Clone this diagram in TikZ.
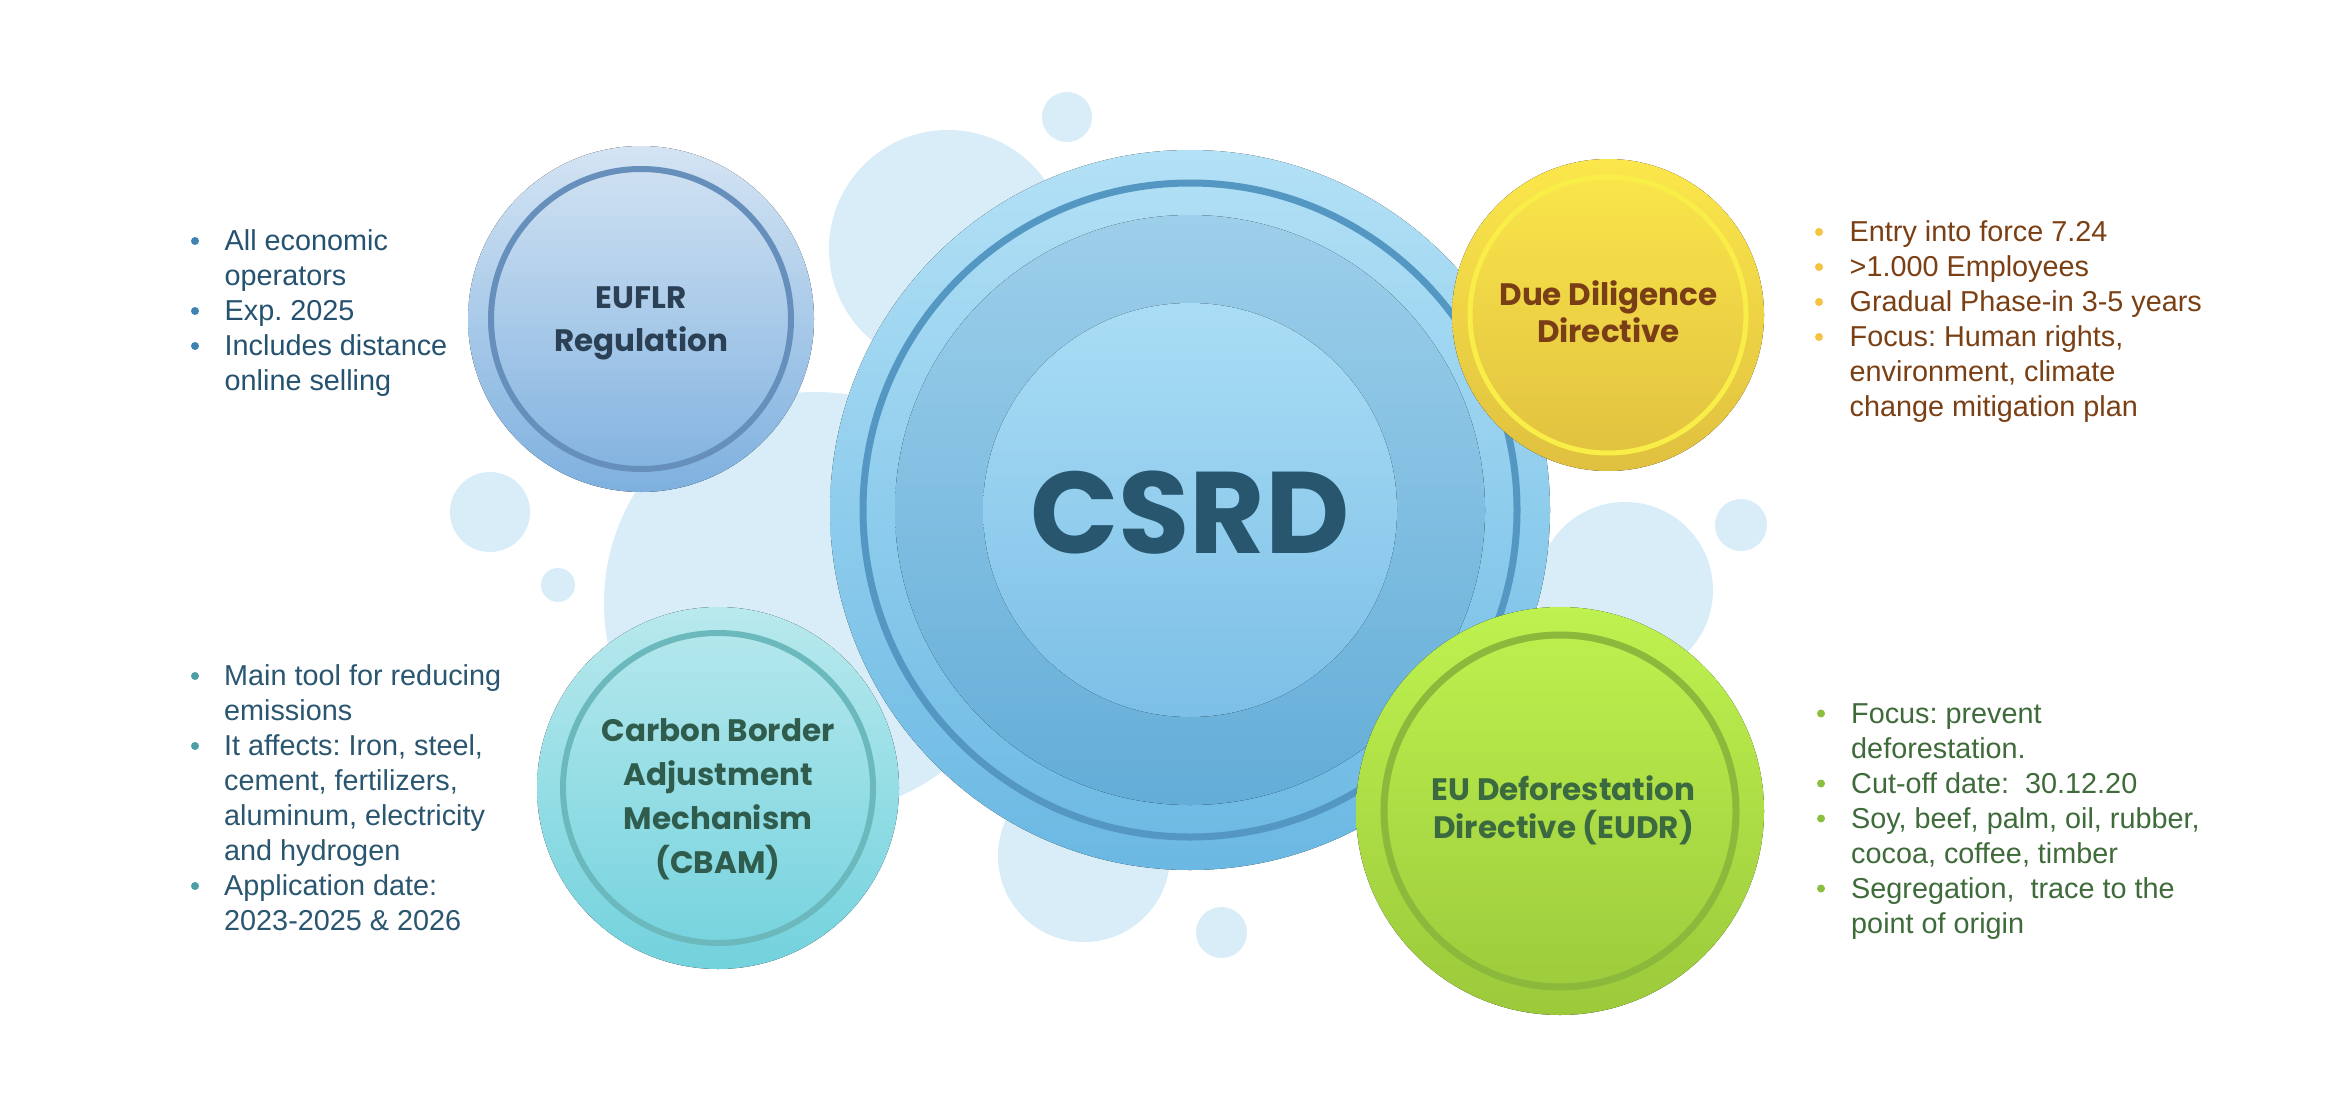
\documentclass[tikz,border=0pt]{standalone}
\usepackage{fontspec}
\setmainfont{Liberation Sans}
\newfontfamily\popfont{Poppins}
\usetikzlibrary{positioning}
\frenchspacing

\definecolor{bubblecol}{HTML}{D8EDF8}
\definecolor{csrdOutA}{HTML}{B3E1F6}
\definecolor{csrdOutB}{HTML}{6AB8E3}
\definecolor{csrdRing}{HTML}{5397C2}
\definecolor{csrdMidA}{HTML}{9DCFEA}
\definecolor{csrdMidB}{HTML}{63ADD8}
\definecolor{csrdInA}{HTML}{AADDF5}
\definecolor{csrdInB}{HTML}{7CBFE7}
\definecolor{csrdTxt}{HTML}{27566E}
\definecolor{flrA}{HTML}{D4E4F3}
\definecolor{flrB}{HTML}{7EB0DF}
\definecolor{flrRing}{HTML}{6690BB}
\definecolor{flrTxt}{HTML}{2B3F55}
\definecolor{cbamA}{HTML}{B8E9ED}
\definecolor{cbamB}{HTML}{72D2DD}
\definecolor{cbamRing}{HTML}{6BB9BD}
\definecolor{cbamTxt}{HTML}{2F5C4C}
\definecolor{dueA}{HTML}{FBE74B}
\definecolor{dueB}{HTML}{E0C03F}
\definecolor{dueRing}{HTML}{F9EE48}
\definecolor{dueTxt}{HTML}{7A3E17}
\definecolor{eudrA}{HTML}{BEF24F}
\definecolor{eudrB}{HTML}{9BC93B}
\definecolor{eudrRing}{HTML}{8AB93C}
\definecolor{eudrTxt}{HTML}{3C6A40}
\definecolor{blueTxt}{HTML}{255270}
\definecolor{blueDot}{HTML}{4183B0}
\definecolor{tealTxt}{HTML}{2A5670}
\definecolor{tealDot}{HTML}{4D9EA6}
\definecolor{brownTxt}{HTML}{7B3F14}
\definecolor{yellowDot}{HTML}{F5C342}
\definecolor{greenTxt}{HTML}{3F6B3A}
\definecolor{greenDot}{HTML}{8DBF3F}

\begin{document}
\begin{tikzpicture}[
        x=1pt, y=-1pt,
        lbl/.style={font=\popfont\bfseries\fontsize{31}{38}\selectfont, inner sep=0pt, anchor=base},
        item/.style={font=\fontsize{28.8}{35}\selectfont, inner sep=0pt, anchor=base west},
        ring/.style={line width=#1},
        ring/.default=6pt
    ]
    \fill[white] (0,0) rectangle (2350,1116);
    \useasboundingbox (0,0) rectangle (2350,1116);

    % background bubbles
    \foreach \bx/\by/\br in {948/249/119, 1067/117/25, 815/603/211, 1625/590/88,
            1084/856/86, 1221.5/932.5/25.5, 490/512/40, 558/585/17, 1741/525/26}
        \fill[bubblecol] (\bx,\by) circle (\br);

    % main circle
    \coordinate (c-main) at (1190,510);
    \fill[top color=csrdOutA, bottom color=csrdOutB] (c-main) circle (360);
    \draw[csrdRing, ring=7pt] (c-main) circle (327);
    \fill[top color=csrdMidA, bottom color=csrdMidB] (c-main) circle (295);
    \fill[top color=csrdInA, bottom color=csrdInB] (c-main) circle (207);
    \node[font=\popfont\bfseries\fontsize{116}{116}\selectfont, text=csrdTxt, inner sep=0pt, anchor=base]
        (csrd) at (1190,553) {CSRD};

    % side circles
    \coordinate (c-flr) at (641,319);
    \fill[top color=flrA, bottom color=flrB] (c-flr) circle (173);
    \draw[flrRing, ring] (c-flr) circle (150);

    \coordinate (c-cbam) at (718,788);
    \fill[top color=cbamA, bottom color=cbamB] (c-cbam) circle (181);
    \draw[cbamRing, ring] (c-cbam) circle (155);

    \coordinate (c-due) at (1608,315);
    \fill[top color=dueA, bottom color=dueB] (c-due) circle (156);
    \draw[dueRing, ring=5pt] (c-due) circle (138);

    \coordinate (c-eudr) at (1560,811);
    \fill[top color=eudrA, bottom color=eudrB] (c-eudr) circle (204);
    \draw[eudrRing, ring=7pt] (c-eudr) circle (176);

    % circle labels
    \foreach \txt [count=\i from 0] in {EUFLR, Regulation}
        \node[lbl, text=flrTxt] (flr-\i) at (641, 308.3+43.4*\i) {\txt};
    \foreach \txt [count=\i from 0] in {Carbon Border, Adjustment, Mechanism, (CBAM)}
        \node[lbl, text=cbamTxt] (cbam-\i) at (718, 741.7+43.9*\i) {\txt};
    \foreach \txt [count=\i from 0] in {Due Diligence, Directive}
        \node[lbl, text=dueTxt] (due-\i) at (1608.5, 305+37.7*\i) {\txt};
    \foreach \txt [count=\i from 0] in {EU Deforestation, Directive (EUDR)}
        \node[lbl, text=eudrTxt] (eudr-\i) at (1563.5, 800+38.3*\i) {\txt};

    % bullet lists
    \foreach \txt [count=\i from 0] in {All economic, operators, Exp. 2025, Includes distance, online selling}
        \node[item, text=blueTxt] (flr-item-\i) at (224.5, 250.5+35*\i) {\txt};
    \foreach \i in {0,2,3}
        \fill[blueDot] (195, 241+35*\i) circle (4);

    \foreach \txt [count=\i from 0] in {Main tool for reducing, emissions, {It affects: Iron, steel,},
            {cement, fertilizers,}, {aluminum, electricity}, and hydrogen, Application date:, 2023-2025 \& 2026}
        \node[item, text=tealTxt] (cbam-item-\i) at (224, 685.5+35*\i) {\txt};
    \foreach \i in {0,2,6}
        \fill[tealDot] (195, 676+35*\i) circle (4);

    \foreach \txt [count=\i from 0] in {Entry into force 7.24, >1.000 Employees, Gradual Phase-in 3-5 years,
            {Focus: Human rights,}, {environment, climate}, change mitigation plan}
        \node[item, text=brownTxt] (due-item-\i) at (1849.5, 241.5+35*\i) {\txt};
    \foreach \i in {0,1,2,3}
        \fill[yellowDot] (1819, 232+35*\i) circle (4);

    \foreach \txt [count=\i from 0] in {Focus: prevent, deforestation., Cut-off date:\ \ 30.12.20,
            {Soy, beef, palm, oil, rubber,}, {cocoa, coffee, timber}, {Segregation,\ \ trace to the}, point of origin}
        \node[item, text=greenTxt] (eudr-item-\i) at (1851, 723+35*\i) {\txt};
    \foreach \i in {0,2,3,5}
        \fill[greenDot] (1821, 713.5+35*\i) circle (4);
\end{tikzpicture}
\end{document}
